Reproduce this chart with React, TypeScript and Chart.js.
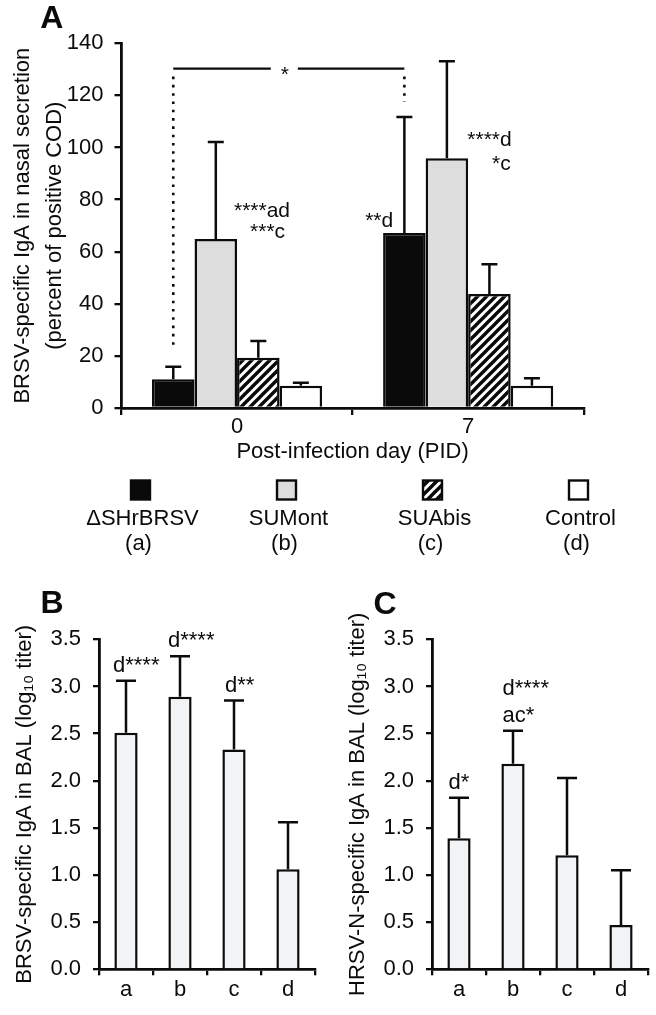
import React, { useEffect, useRef } from "react";
import { Chart, registerables } from "chart.js";

Chart.register(...registerables);

const FONT = "'Liberation Sans', Arial, Helvetica, sans-serif";
const INK = "#0b0b0b";

// ---------------- Panel A data ----------------
const dayLabels = ["0", "7"];
const groupNames = ["ΔSHrBRSV", "SUMont", "SUAbis", "Control"];
const groupCodes = ["(a)", "(b)", "(c)", "(d)"];
const meanDeltaSH = [11.0, 67.2];
const sdDeltaSH = [4.8, 44.5];
const meanSUMont = [64.9, 95.9];
const sdSUMont = [37.2, 37.2];
const meanSUAbis = [19.3, 43.8];
const sdSUAbis = [6.4, 11.4];
const meanControl = [8.5, 8.5];
const sdControl = [1.2, 2.9];
const yMinA = 0;
const yMaxA = 140;
const yStepA = 20;

// significance bracket (ΔSHrBRSV PID 0 vs PID 7)
const bracketValue = 130.3;
const bracketLeftEnd = 24.2;
const bracketRightEnd = 117.5;
const bracketText = "*";

// statistical annotations: text, category index, pixel offset from category centre, value (baseline)
const annotTextA = ["****ad", "***c", "**d", "****d", "*c"];
const annotCatA = [0, 0, 1, 1, 1];
const annotDxA = [53, 48, -75, 43.5, 42.5];
const annotValueA = [73.4, 65.1, 69.5, 100.6, 91.3];

// ---------------- Panel B / C data ----------------
const groupLetters = ["a", "b", "c", "d"];
const meanBrsvBal = [2.51, 2.89, 2.33, 1.06];
const sdBrsvBal = [0.55, 0.43, 0.52, 0.5];
const meanHrsvBal = [1.39, 2.18, 1.21, 0.47];
const sdHrsvBal = [0.43, 0.35, 0.82, 0.58];
const yMinBC = 0;
const yMaxBC = 3.5;
const yStepBC = 0.5;

const annotTextB = ["d****", "d****", "d**"];
const annotCatB = [0, 1, 2];
const annotDxB = [-13, -12, -9];
const annotValueB = [3.156, 3.415, 2.944];

const annotTextC = ["d*", "d****", "ac*"];
const annotCatC = [0, 1, 1];
const annotDxC = [-10.5, -10.5, -10.5];
const annotValueC = [1.909, 2.909, 2.626];

// ---------------- helpers ----------------
function makeHatch() {
  const s = 9;
  const c = document.createElement("canvas");
  c.width = s;
  c.height = s;
  const g = c.getContext("2d");
  g.fillStyle = "#ffffff";
  g.fillRect(0, 0, s, s);
  g.strokeStyle = "#0a0a0a";
  g.lineWidth = 3.4;
  g.beginPath();
  g.moveTo(-1, s + 1);
  g.lineTo(s + 1, -1);
  g.moveTo(-s - 1, s + 1);
  g.lineTo(s + 1, -s - 1);
  g.moveTo(-1, 2 * s + 1);
  g.lineTo(2 * s + 1, -1);
  g.stroke();
  return g.createPattern(c, "repeat");
}

function errorBarPlugin(cap, lw) {
  return {
    id: "errorBars",
    afterDatasetsDraw(chart) {
      const ctx = chart.ctx;
      const y = chart.scales.y;
      chart.data.datasets.forEach((ds, di) => {
        const errs = ds.errors;
        if (!errs) return;
        const meta = chart.getDatasetMeta(di);
        meta.data.forEach((el, i) => {
          const top = y.getPixelForValue(ds.data[i] + errs[i]);
          ctx.save();
          ctx.strokeStyle = INK;
          ctx.lineWidth = lw;
          ctx.beginPath();
          ctx.moveTo(el.x, el.y);
          ctx.lineTo(el.x, top);
          ctx.moveTo(el.x - cap / 2, top);
          ctx.lineTo(el.x + cap / 2, top);
          ctx.stroke();
          ctx.restore();
        });
      });
    },
  };
}

function textPlugin(letter, lx, ly, texts, cats, dxs, values, align, size) {
  return {
    id: "panelText",
    afterDraw(chart) {
      const ctx = chart.ctx;
      const xs = chart.scales.x;
      const ys = chart.scales.y;
      ctx.save();
      ctx.fillStyle = INK;
      ctx.font = `bold 32px ${FONT}`;
      ctx.textAlign = "center";
      ctx.textBaseline = "middle";
      ctx.fillText(letter, lx, ly);
      ctx.font = `${size}px ${FONT}`;
      ctx.textAlign = align;
      ctx.textBaseline = "alphabetic";
      texts.forEach((t, i) => {
        ctx.fillText(t, xs.getPixelForValue(cats[i]) + dxs[i], ys.getPixelForValue(values[i]));
      });
      ctx.restore();
    },
  };
}

const bracketPlugin = {
  id: "bracket",
  afterDatasetsDraw(chart) {
    const ctx = chart.ctx;
    const ys = chart.scales.y;
    const meta = chart.getDatasetMeta(0);
    const x0 = meta.data[0].x;
    const x1 = meta.data[1].x;
    const yb = ys.getPixelForValue(bracketValue);
    const mid = (x0 + x1) / 2 - 4;
    ctx.save();
    ctx.strokeStyle = INK;
    ctx.lineWidth = 2.2;
    ctx.beginPath();
    ctx.moveTo(x0, yb);
    ctx.lineTo(mid - 14, yb);
    ctx.moveTo(mid + 13, yb);
    ctx.lineTo(x1, yb);
    ctx.stroke();
    ctx.lineWidth = 2.6;
    ctx.setLineDash([2.6, 5.7]);
    ctx.beginPath();
    ctx.moveTo(x0, yb + 8);
    ctx.lineTo(x0, ys.getPixelForValue(bracketLeftEnd));
    ctx.moveTo(x1, yb + 8);
    ctx.lineTo(x1, ys.getPixelForValue(bracketRightEnd));
    ctx.stroke();
    ctx.setLineDash([]);
    ctx.fillStyle = INK;
    ctx.font = `21px ${FONT}`;
    ctx.textAlign = "center";
    ctx.textBaseline = "alphabetic";
    ctx.fillText(bracketText, mid, yb + 12);
    ctx.restore();
  },
};

const legendPlugin = {
  id: "groupLegend",
  afterDraw(chart) {
    const ctx = chart.ctx;
    ctx.save();
    chart.data.datasets.forEach((ds, i) => {
      const cx = 140.5 + i * 146;
      ctx.fillStyle = ds.backgroundColor;
      ctx.fillRect(cx - 9.5, 480.5, 19, 19);
      ctx.strokeStyle = INK;
      ctx.lineWidth = 2.4;
      ctx.strokeRect(cx - 9.5, 480.5, 19, 19);
      ctx.fillStyle = INK;
      ctx.font = `22px ${FONT}`;
      ctx.textAlign = "center";
      ctx.textBaseline = "middle";
      ctx.fillText(ds.label, cx + 2, 519);
      ctx.fillText(groupCodes[i], cx - 2, 544);
    });
    ctx.restore();
  },
};

function axisCommon(tickLen) {
  return {
    grid: {
      display: true,
      drawOnChartArea: false,
      drawTicks: true,
      tickLength: tickLen,
      color: INK,
      lineWidth: 2.3,
    },
    border: { display: true, color: INK, width: 2.8 },
  };
}

function buildA(canvas) {
  const hatch = makeHatch();
  const fills = ["#0a0a0a", "#dcdddc", hatch, "#ffffff"];
  const means = [meanDeltaSH, meanSUMont, meanSUAbis, meanControl];
  const sds = [sdDeltaSH, sdSUMont, sdSUAbis, sdControl];
  const datasets = groupNames.map((name, i) => ({
    label: name,
    data: means[i],
    errors: sds[i],
    backgroundColor: fills[i],
    borderColor: INK,
    borderWidth: 2.5,
    categoryPercentage: 0.736,
    barPercentage: 1,
  }));
  return new Chart(canvas, {
    type: "bar",
    data: { labels: dayLabels, datasets },
    options: {
      responsive: false,
      animation: false,
      events: [],
      layout: { padding: { top: 43.3, right: 72.3, bottom: 0, left: 0 } },
      scales: {
        x: {
          ...axisCommon(7),
          offset: true,
          grid: { ...axisCommon(7).grid, offset: true },
          ticks: { color: INK, font: { family: FONT, size: 22, lineHeight: 1 }, padding: 1 },
          title: {
            display: true,
            text: "Post-infection day (PID)",
            color: INK,
            font: { family: FONT, size: 22, lineHeight: 1.2 },
            padding: { top: 0, bottom: 105 },
          },
          afterFit: (s) => {
            s.height = 162;
          },
        },
        y: {
          ...axisCommon(7),
          min: yMinA,
          max: yMaxA,
          ticks: { stepSize: yStepA, color: INK, font: { family: FONT, size: 22 }, padding: 11 },
          title: {
            display: true,
            text: ["BRSV-specific IgA in nasal secretion", "(percent of positive COD)"],
            color: INK,
            font: { family: FONT, size: 22, lineHeight: 1.477 },
            padding: { top: 6.5, bottom: 0 },
          },
          afterFit: (s) => {
            s.width = 121.5;
          },
        },
      },
      plugins: { legend: { display: false }, tooltip: { enabled: false } },
    },
    plugins: [
      errorBarPlugin(16, 2.5),
      bracketPlugin,
      textPlugin("A", 51.7, 19.5, annotTextA, annotCatA, annotDxA, annotValueA, "right", 21),
      legendPlugin,
    ],
  });
}

function buildBC(canvas, opts) {
  return new Chart(canvas, {
    type: "bar",
    data: {
      labels: groupLetters,
      datasets: [
        {
          label: opts.title,
          data: opts.means,
          errors: opts.sds,
          backgroundColor: "#f2f3f5",
          borderColor: INK,
          borderWidth: 2.5,
          categoryPercentage: 1,
          barPercentage: 0.43,
        },
      ],
    },
    options: {
      responsive: false,
      animation: false,
      events: [],
      layout: { padding: { top: 64.3, right: opts.padRight, bottom: 0, left: 0 } },
      scales: {
        x: {
          ...axisCommon(6),
          offset: true,
          grid: { ...axisCommon(6).grid, offset: true },
          ticks: { color: INK, font: { family: FONT, size: 22, lineHeight: 1 }, padding: 4 },
          afterFit: (s) => {
            s.height = 45.7;
          },
        },
        y: {
          ...axisCommon(6),
          min: yMinBC,
          max: yMaxBC,
          ticks: {
            stepSize: yStepBC,
            color: INK,
            font: { family: FONT, size: 22 },
            padding: 12,
            callback: (v) => Number(v).toFixed(1),
          },
          title: {
            display: true,
            text: opts.title,
            color: INK,
            font: { family: FONT, size: 22, lineHeight: 1.2 },
            padding: { top: opts.titlePad, bottom: 0 },
          },
          afterFit: (s) => {
            s.width = opts.axisLeft;
          },
        },
      },
      plugins: { legend: { display: false }, tooltip: { enabled: false } },
    },
    plugins: [
      errorBarPlugin(20, 2.5),
      textPlugin(opts.letter, opts.lx, opts.ly, opts.at, opts.ac, opts.adx, opts.av, "left", 22),
    ],
  });
}

const buildB = (canvas) =>
  buildBC(canvas, {
    title: "BRSV-specific IgA in BAL (log\u2081\u2080 titer)",
    means: meanBrsvBal,
    sds: sdBrsvBal,
    padRight: 13,
    titlePad: 11.8,
    axisLeft: 99,
    letter: "B",
    lx: 52,
    ly: 29,
    at: annotTextB,
    ac: annotCatB,
    adx: annotDxB,
    av: annotValueB,
  });

const buildC = (canvas) =>
  buildBC(canvas, {
    title: "HRSV-N-specific IgA in BAL (log\u2081\u2080 titer)",
    means: meanHrsvBal,
    sds: sdHrsvBal,
    padRight: 8,
    titlePad: 16.5,
    axisLeft: 104,
    letter: "C",
    lx: 57,
    ly: 30,
    at: annotTextC,
    ac: annotCatC,
    adx: annotDxC,
    av: annotValueC,
  });

function ChartCanvas({ build, left, top, width, height }) {
  const ref = useRef(null);
  useEffect(() => {
    const chart = build(ref.current);
    return () => chart.destroy();
  }, [build]);
  return (
    <canvas
      ref={ref}
      width={width}
      height={height}
      style={{ position: "absolute", left, top, width, height }}
    />
  );
}

export default function App() {
  return (
    <div style={{ position: "absolute", left: 0, top: 0, width: 656, height: 1015, background: "#ffffff" }}>
      <ChartCanvas build={buildA} left={0} top={0} width={656} height={570} />
      <ChartCanvas build={buildB} left={0} top={575} width={328} height={440} />
      <ChartCanvas build={buildC} left={328} top={575} width={328} height={440} />
    </div>
  );
}
